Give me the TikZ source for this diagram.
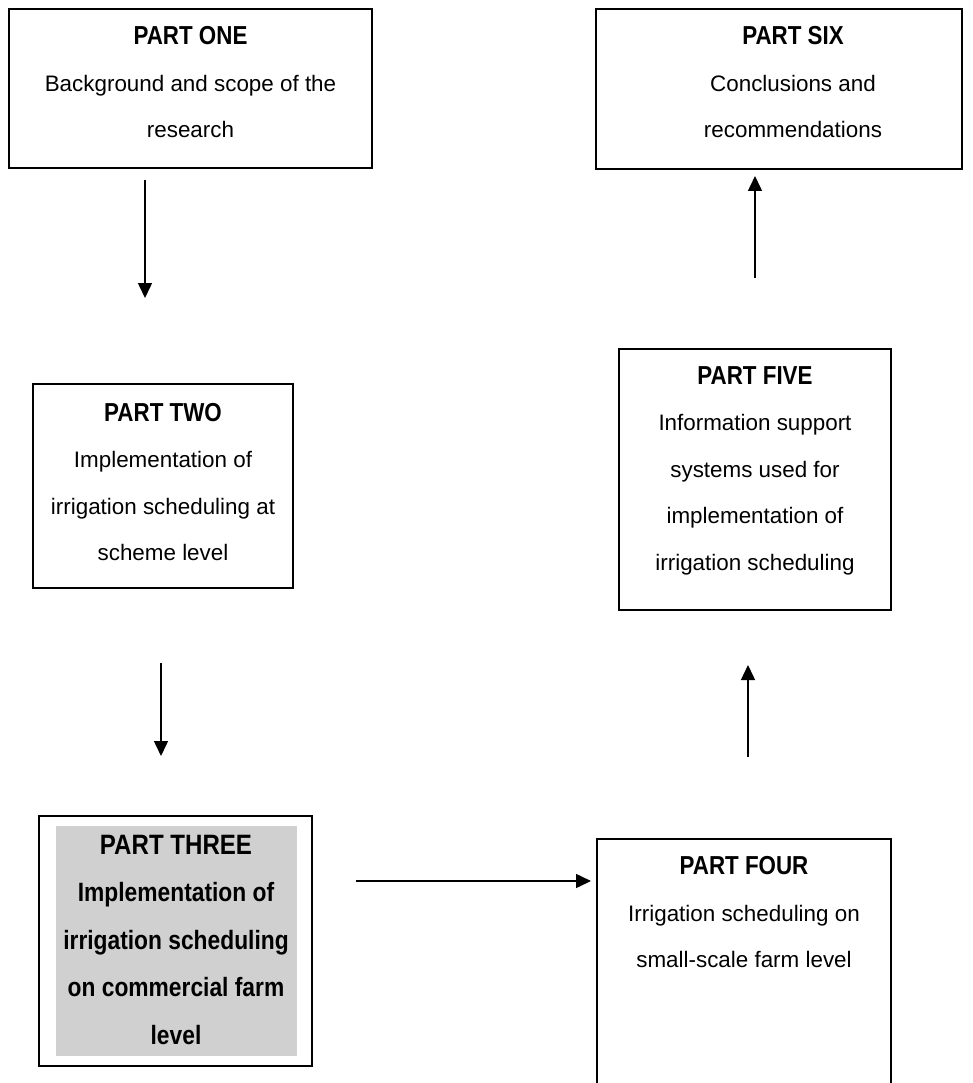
\documentclass[tikz,border=0pt]{standalone}
\usepackage{fontspec}
\setmainfont{Liberation Sans}
\newfontfamily\ttlfont{Liberation Sans}[FakeStretch=0.86]
\usetikzlibrary{arrows.meta}
\tikzset{
  box/.style={draw, line width=1.5pt, inner sep=0pt},
  txt/.style={anchor=north, inner sep=0pt, align=center, font=\fontsize{22.4}{46.5}\selectfont},
  txtb/.style={anchor=north, inner sep=0pt, align=center, font=\ttlfont\bfseries\fontsize{26.5}{47.5}\selectfont},
  arr/.style={-{Triangle[length=15pt,width=14pt]}, line width=1.5pt},
}
\newcommand{\ttl}[1]{{\ttlfont\bfseries\fontsize{26}{46.5}\selectfont #1}}
\begin{document}
\begin{tikzpicture}[x=1pt,y=-1pt]
\useasboundingbox (0,0) rectangle (972,1083);
% boxes
\node[box, minimum width=363pt, minimum height=159pt] (p1) at (190.5,88.5) {};
\node[box, minimum width=366pt, minimum height=160pt] (p6) at (779,89) {};
\node[box, minimum width=260pt, minimum height=204pt] (p2) at (163,486) {};
\node[box, minimum width=272pt, minimum height=261pt] (p5) at (755,479.5) {};
\node[box, line width=1.7pt, minimum width=273pt, minimum height=250pt] (p3) at (175.5,941) {};
\node[fill={rgb,255:red,208;green,208;blue,208}, inner sep=0pt, minimum width=241pt, minimum height=230pt] (p3g) at (176.5,941) {};
\begin{scope}
\clip (0,0) rectangle (972,1083);
\node[box, minimum width=294pt, minimum height=256pt] (p4) at (744,967) {};
\end{scope}
% texts
\node[txt] (t1) at (190.5,26.4) {\ttl{PART ONE}\\Background and scope of the\\research};
\node[txt] (t6) at (793,26.4) {\ttl{PART SIX}\\Conclusions and\\recommendations};
\node[txt] (t2) at (163,403.1) {\ttl{PART TWO}\\Implementation of\\irrigation scheduling at\\scheme level};
\node[txt] (t5) at (755,366.4) {\ttl{PART FIVE}\\Information support\\systems used for\\implementation of\\irrigation scheduling};
\node[txtb] (t3) at (176,835) {{\fontsize{28}{47.5}\selectfont PART THREE}\\Implementation of\\irrigation scheduling\\on commercial farm\\level};
\node[txt] (t4) at (744,856.4) {\ttl{PART FOUR}\\Irrigation scheduling on\\small-scale farm level};
% arrow ends
\coordinate (a1s) at (145,180);
\coordinate (a1e) at (145,298);
\coordinate (a2s) at (161,663);
\coordinate (a2e) at (161,756);
\coordinate (a3s) at (356,881);
\coordinate (a3e) at (591,881);
\coordinate (a4s) at (748,757);
\coordinate (a4e) at (748,665);
\coordinate (a5s) at (755,278);
\coordinate (a5e) at (755,176);
\draw[arr] (a1s) -- (a1e);
\draw[arr] (a2s) -- (a2e);
\draw[arr] (a3s) -- (a3e);
\draw[arr] (a4s) -- (a4e);
\draw[arr] (a5s) -- (a5e);
\end{tikzpicture}
\end{document}
